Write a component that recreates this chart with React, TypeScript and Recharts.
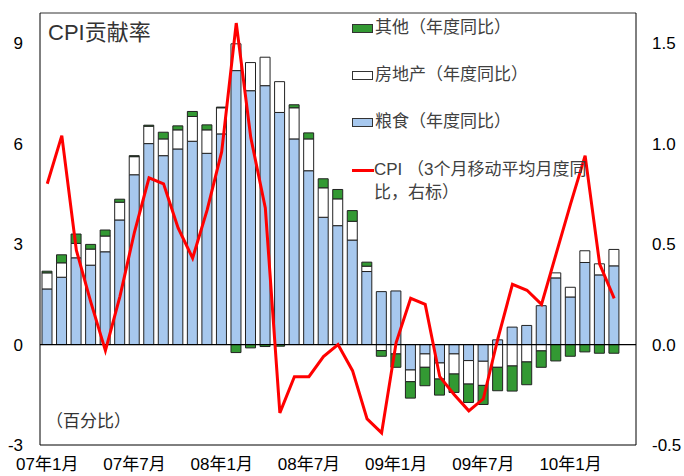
import React from 'react';
import { ComposedChart, Bar, Line, XAxis, YAxis, ReferenceLine, Legend } from 'recharts';

const months = [
  '07年1月', '07年2月', '07年3月', '07年4月', '07年5月', '07年6月', '07年7月', '07年8月', '07年9月', '07年10月', '07年11月', '07年12月',
  '08年1月', '08年2月', '08年3月', '08年4月', '08年5月', '08年6月', '08年7月', '08年8月', '08年9月', '08年10月', '08年11月', '08年12月',
  '09年1月', '09年2月', '09年3月', '09年4月', '09年5月', '09年6月', '09年7月', '09年8月', '09年9月', '09年10月', '09年11月', '09年12月',
  '10年1月', '10年2月', '10年3月', '10年4月', '10年5月',
];

// 粮食 (年度同比, 左轴)
const food = [
  1.66, 2.01, 2.59, 2.37, 2.77, 3.72, 5.07, 6.0, 5.64, 5.84, 6.07, 5.71,
  6.29, 8.18, 7.58, 7.73, 6.93, 6.14, 5.19, 3.8, 3.55, 3.12, 2.18, 1.58,
  1.6, -0.76, -0.28, -0.55, -0.28, -0.48, -0.5, 0.14, 0.52, 0.57, 1.16, 1.99,
  1.42, 2.45, 2.08, 2.35,
];

// 房地产
const housing = [
  0.48, 0.43, 0.43, 0.48, 0.47, 0.53, 0.54, 0.52, 0.5, 0.57, 0.74, 0.7,
  0.78, 0.8, 0.84, 0.85, 0.92, 0.93, 0.95, 0.88, 0.8, 0.56, 0.16, -0.18,
  -0.28, -0.35, -0.4, -0.48, -0.6, -0.7, -0.72, -0.68, -0.64, -0.52, -0.19, 0.15,
  0.29, 0.35, 0.33, 0.49,
];

// 其他
const other = [
  0.05, 0.24, 0.28, 0.14, 0.18, 0.09, 0.03, 0.03, 0.2, 0.12, 0.15, 0.15,
  0.02, -0.24, -0.1, -0.06, -0.05, 0.09, 0.18, 0.27, 0.28, 0.32, 0.12, -0.17,
  -0.4, -0.49, -0.55, -0.48, -0.55, -0.55, -0.57, -0.7, -0.75, -0.68, -0.49, -0.49,
  -0.35, -0.22, -0.26, -0.26,
];

// CPI 3个月移动平均月度同比 (右轴)
const cpi = [
  0.8, 1.04, 0.47, 0.21, -0.03, 0.24, 0.56, 0.83, 0.8, 0.58, 0.43, 0.67,
  0.96, 1.6, 1.03, 0.68, -0.34, -0.16, -0.16, -0.06, 0.0, -0.13, -0.37, -0.44,
  0.01, 0.23, 0.2, -0.16, -0.25, -0.33, -0.27, 0.03, 0.3, 0.27, 0.2, 0.45,
  0.7, 0.94, 0.4, 0.23,
];

const leftTicks = [-3, 0, 3, 6, 9];
const rightTicks = [-0.5, 0, 0.5, 1, 1.5];

const FONT = '"Liberation Sans", Arial, "Noto Sans CJK SC", sans-serif';
const BLUE = '#A7C8EE';
const GREEN = '#339933';

const data = months.map((m, i) => ({
  month: m,
  food: food[i] ?? null,
  housing: housing[i] ?? null,
  other: other[i] ?? null,
  cpi: cpi[i] ?? null,
}));

const legendItems = [
  { label: '其他（年度同比）', fill: GREEN, top: 16 },
  { label: '房地产（年度同比）', fill: '#FFFFFF', top: 63 },
  { label: '粮食（年度同比）', fill: BLUE, top: 110 },
];

const CustomLegend = () => (
  <div style={{ position: 'relative', width: 280, height: 210, fontFamily: FONT, fontSize: 17, color: '#404040' }}>
    {legendItems.map((it) => (
      <div key={it.label} style={{ position: 'absolute', left: 0, top: it.top, height: 24, display: 'flex', alignItems: 'center' }}>
        <span style={{ display: 'inline-block', width: 19, height: 7, background: it.fill, border: '1px solid #333', marginRight: 2 }} />
        <span style={{ lineHeight: '24px' }}>{it.label}</span>
      </div>
    ))}
    <div style={{ position: 'absolute', left: 0, top: 158, display: 'flex', alignItems: 'flex-start' }}>
      <span style={{ display: 'inline-block', width: 22, height: 3, background: '#FF0000', marginTop: 11 }} />
      <span style={{ lineHeight: '23px' }}>
        CPI （3个月移动平均月度同
        <br />
        比，右标）
      </span>
    </div>
  </div>
);

const App: React.FC = () => {
  return (
    <div style={{ position: 'absolute', left: 0, top: 0, width: 684, height: 476, background: '#fff', fontFamily: FONT }}>
      <ComposedChart
        width={684}
        height={476}
        data={data}
        stackOffset="sign"
        barSize={10}
        margin={{ top: 13, right: 0, bottom: 0, left: 0 }}
      >
        <XAxis
          dataKey="month"
          interval={5}
          height={31}
          tickLine={false}
          tickSize={0}
          tickMargin={13}
          axisLine={{ stroke: '#000' }}
          tick={{ fontSize: 17, fill: '#000', fontFamily: FONT }}
        />
        <YAxis
          yAxisId="left"
          domain={[-3, 9.9]}
          ticks={leftTicks}
          width={40}
          tickLine={false}
          tickSize={0}
          tickMargin={17}
          axisLine={{ stroke: '#000' }}
          tick={{ fontSize: 17, fill: '#000', fontFamily: FONT }}
          allowDataOverflow
        />
        <YAxis
          yAxisId="right"
          orientation="right"
          domain={[-0.5, 1.65]}
          ticks={rightTicks}
          width={48}
          tickLine={false}
          tickSize={0}
          tickMargin={16}
          axisLine={{ stroke: '#000' }}
          tickFormatter={(v: number) => v.toFixed(1)}
          tick={{ fontSize: 17, fill: '#000', fontFamily: FONT }}
          allowDataOverflow
        />
        <ReferenceLine yAxisId="left" y={9.9} stroke="#333" strokeWidth={1} />
        <Legend
          layout="vertical"
          align="center"
          verticalAlign="middle"
          wrapperStyle={{ left: 352, top: 0, width: 280, height: 210 }}
          content={() => <CustomLegend />}
        />
        <Bar yAxisId="left" dataKey="food" stackId="a" fill={BLUE} stroke="#222" strokeWidth={1} isAnimationActive={false} />
        <Bar yAxisId="left" dataKey="housing" stackId="a" fill="#FFFFFF" stroke="#222" strokeWidth={1} isAnimationActive={false} />
        <Bar yAxisId="left" dataKey="other" stackId="a" fill={GREEN} stroke="#222" strokeWidth={1} isAnimationActive={false} />
        <ReferenceLine yAxisId="left" y={0} stroke="#000" strokeWidth={1.2} />
        <Line
          yAxisId="right"
          dataKey="cpi"
          type="linear"
          stroke="#FF0000"
          strokeWidth={3}
          dot={false}
          activeDot={false}
          isAnimationActive={false}
        />
      </ComposedChart>
      <div style={{ position: 'absolute', left: 48, top: 21, fontSize: 22, lineHeight: '24px', color: '#333' }}>CPI贡献率</div>
      <div style={{ position: 'absolute', left: 46, top: 412, fontSize: 17, lineHeight: '20px', color: '#333' }}>（百分比）</div>
    </div>
  );
};

export default App;
